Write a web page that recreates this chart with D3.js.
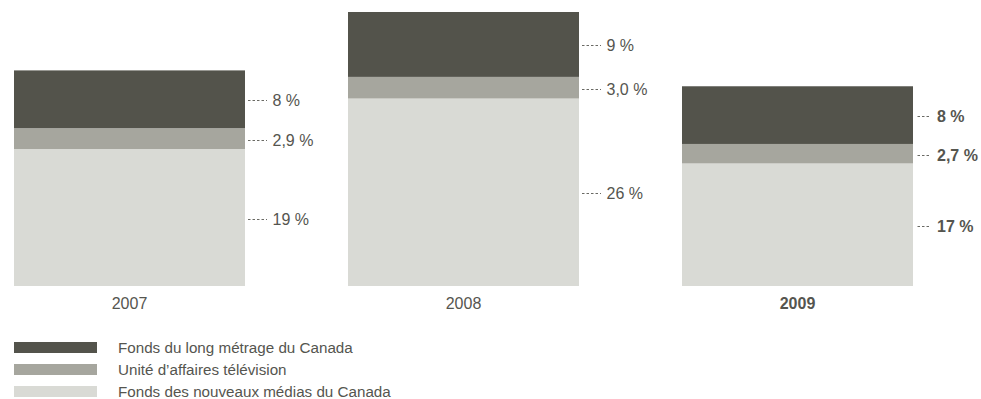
<!DOCTYPE html>
<html><head><meta charset="utf-8">
<script src="https://cdn.jsdelivr.net/npm/d3@7"></script>
<style>
html,body{margin:0;padding:0;background:#fff;}
svg text{font-family:"Liberation Sans",Arial,Helvetica,sans-serif;fill:#55554f;}
</style></head>
<body><svg id="c" width="981" height="399"></svg>
<script>
const years = ["2007", "2008", "2009"];
const seriesNames = ["Fonds des nouveaux médias du Canada", "Unité d’affaires télévision", "Fonds du long métrage du Canada"];
const nouveauxMedias = [19, 26, 17];
const uniteTelevision = [2.9, 3.0, 2.7];
const longMetrage = [8, 9, 8];
const labelNouveaux = ["19 %", "26 %", "17 %"];
const labelTelevision = ["2,9 %", "3,0 %", "2,7 %"];
const labelLong = ["8 %", "9 %", "8 %"];
const colors = ["#d9dad5", "#a6a69e", "#53534b"];
const legendOrder = [2, 1, 0];

const svg = d3.select("#c");
const x = d3.scaleBand().domain(years).range([14, 913]).paddingInner(103 / 334).paddingOuter(0);
const y = d3.scaleLinear().domain([0, 38]).range([286, 12]);
const bw = x.bandwidth();

const data = years.map((yr, i) => ({year: yr, s0: nouveauxMedias[i], s1: uniteTelevision[i], s2: longMetrage[i],
  labels: [labelNouveaux[i], labelTelevision[i], labelLong[i]]}));
const stacked = d3.stack().keys(["s0", "s1", "s2"])(data);
const isBold = yr => yr === "2009";

stacked.forEach((layer, k) => {
  svg.append("g").selectAll("rect").data(layer).join("rect")
    .attr("x", d => x(d.data.year))
    .attr("width", bw)
    .attr("y", d => y(d[1]))
    .attr("height", d => y(d[0]) - y(d[1]))
    .attr("fill", colors[k]);

  const g = svg.append("g").selectAll("g").data(layer).join("g")
    .attr("transform", d => `translate(${x(d.data.year) + bw},${Math.round((y(d[0]) + y(d[1])) / 2) + 1})`);
  g.append("line")
    .attr("x1", d => isBold(d.data.year) ? 4.5 : 3)
    .attr("x2", d => isBold(d.data.year) ? 17 : 22)
    .attr("y1", 0.5).attr("y2", 0.5)
    .attr("stroke", "#6a6a64").attr("stroke-width", 1)
    .attr("stroke-dasharray", "2.5,2");
  g.append("text")
    .attr("x", d => isBold(d.data.year) ? 24 : 27.5)
    .attr("dy", "0.36em")
    .style("font-size", "16px")
    .style("font-weight", d => isBold(d.data.year) ? "bold" : "normal")
    .text(d => d.data.labels[k]);
});

svg.append("g").selectAll("text").data(years).join("text")
  .attr("x", d => x(d) + bw / 2)
  .attr("y", 303)
  .attr("dy", "0.36em")
  .attr("text-anchor", "middle")
  .style("font-size", "16px")
  .style("font-weight", d => isBold(d) ? "bold" : "normal")
  .text(d => d);

const lg = svg.append("g").selectAll("g").data(legendOrder).join("g")
  .attr("transform", (d, i) => `translate(14,${342 + i * 22})`);
lg.append("rect").attr("width", 83).attr("height", 11).attr("fill", d => colors[d]);
lg.append("text").attr("x", 104).attr("y", 5.5).attr("dy", "0.36em")
  .style("font-size", "15.2px").text(d => seriesNames[d]);
</script></body></html>
